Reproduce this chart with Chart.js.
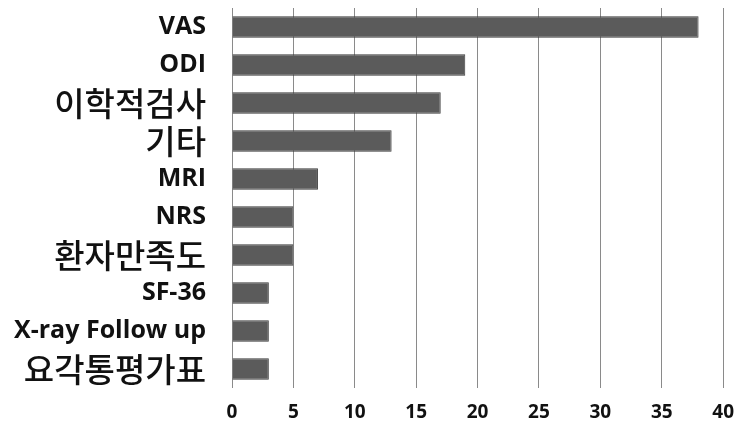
<!DOCTYPE html>
<html>
<head>
<meta charset="utf-8">
<script src="https://cdn.jsdelivr.net/npm/chart.js@4/dist/chart.umd.min.js"></script>
<style>
  html, body { margin: 0; padding: 0; background: #fff; }
  #wrap { width: 747px; height: 426px; }
</style>
</head>
<body>
<div id="wrap"><canvas id="myChart"></canvas></div>
<script>
var categorias = ['VAS', 'ODI', '이학적검사', '기타', 'MRI', 'NRS', '환자만족도', 'SF-36', 'X-ray Follow up', '요각통평가표'];
var valores = [38, 19, 17, 13, 7, 5, 5, 3, 3, 3];
var ticksX = [0, 5, 10, 15, 20, 25, 30, 35, 40];

function esCoreano(txt) {
    return /[\uac00-\ud7a3]/.test(txt);
}

var ctx = document.getElementById('myChart');

var myBarChart = new Chart(ctx, {
    type: 'bar',
    data: {
        labels: categorias,
        datasets: [{
            data: valores,
            backgroundColor: '#5b5b5b',
            borderColor: '#3c3c3c',
            borderWidth: 1,
            barPercentage: 0.56,
            categoryPercentage: 1
        }]
    },
    options: {
        indexAxis: 'y',
        responsive: true,
        maintainAspectRatio: false,
        animation: false,
        layout: { padding: { top: 8, right: 13, left: 0, bottom: 0 } },
        plugins: {
            legend: { display: false },
            tooltip: { enabled: false }
        },
        scales: {
            x: {
                min: 0,
                max: 40,
                afterBuildTicks: function(scale) {
                    scale.ticks = ticksX.map(function(v) { return { value: v }; });
                },
                afterFit: function(scale) { scale.height = 38; },
                grid: { color: '#8a8a8a', lineWidth: 1, drawTicks: false },
                border: { display: false },
                ticks: {
                    padding: 13,
                    color: '#111',
                    font: { family: '"Open Sans", Lato, sans-serif', size: 19, weight: 'bold' }
                }
            },
            y: {
                afterFit: function(scale) {
                    scale.width = 232;
                    scale.paddingTop = 0;
                    scale.paddingBottom = 0;
                },
                grid: { display: false, drawTicks: false },
                border: { display: false },
                ticks: {
                    padding: 26,
                    color: '#111',
                    autoSkip: false,
                    font: function(context) {
                        var txt = categorias[context.index] || '';
                        if (esCoreano(txt)) {
                            return { family: '"Noto Sans CJK KR", sans-serif', size: 33, weight: '500', lineHeight: 1 };
                        }
                        return { family: '"Open Sans", Lato, sans-serif', size: 25, weight: 'bold', lineHeight: 1 };
                    }
                }
            }
        }
    }
});
</script>
</body>
</html>
